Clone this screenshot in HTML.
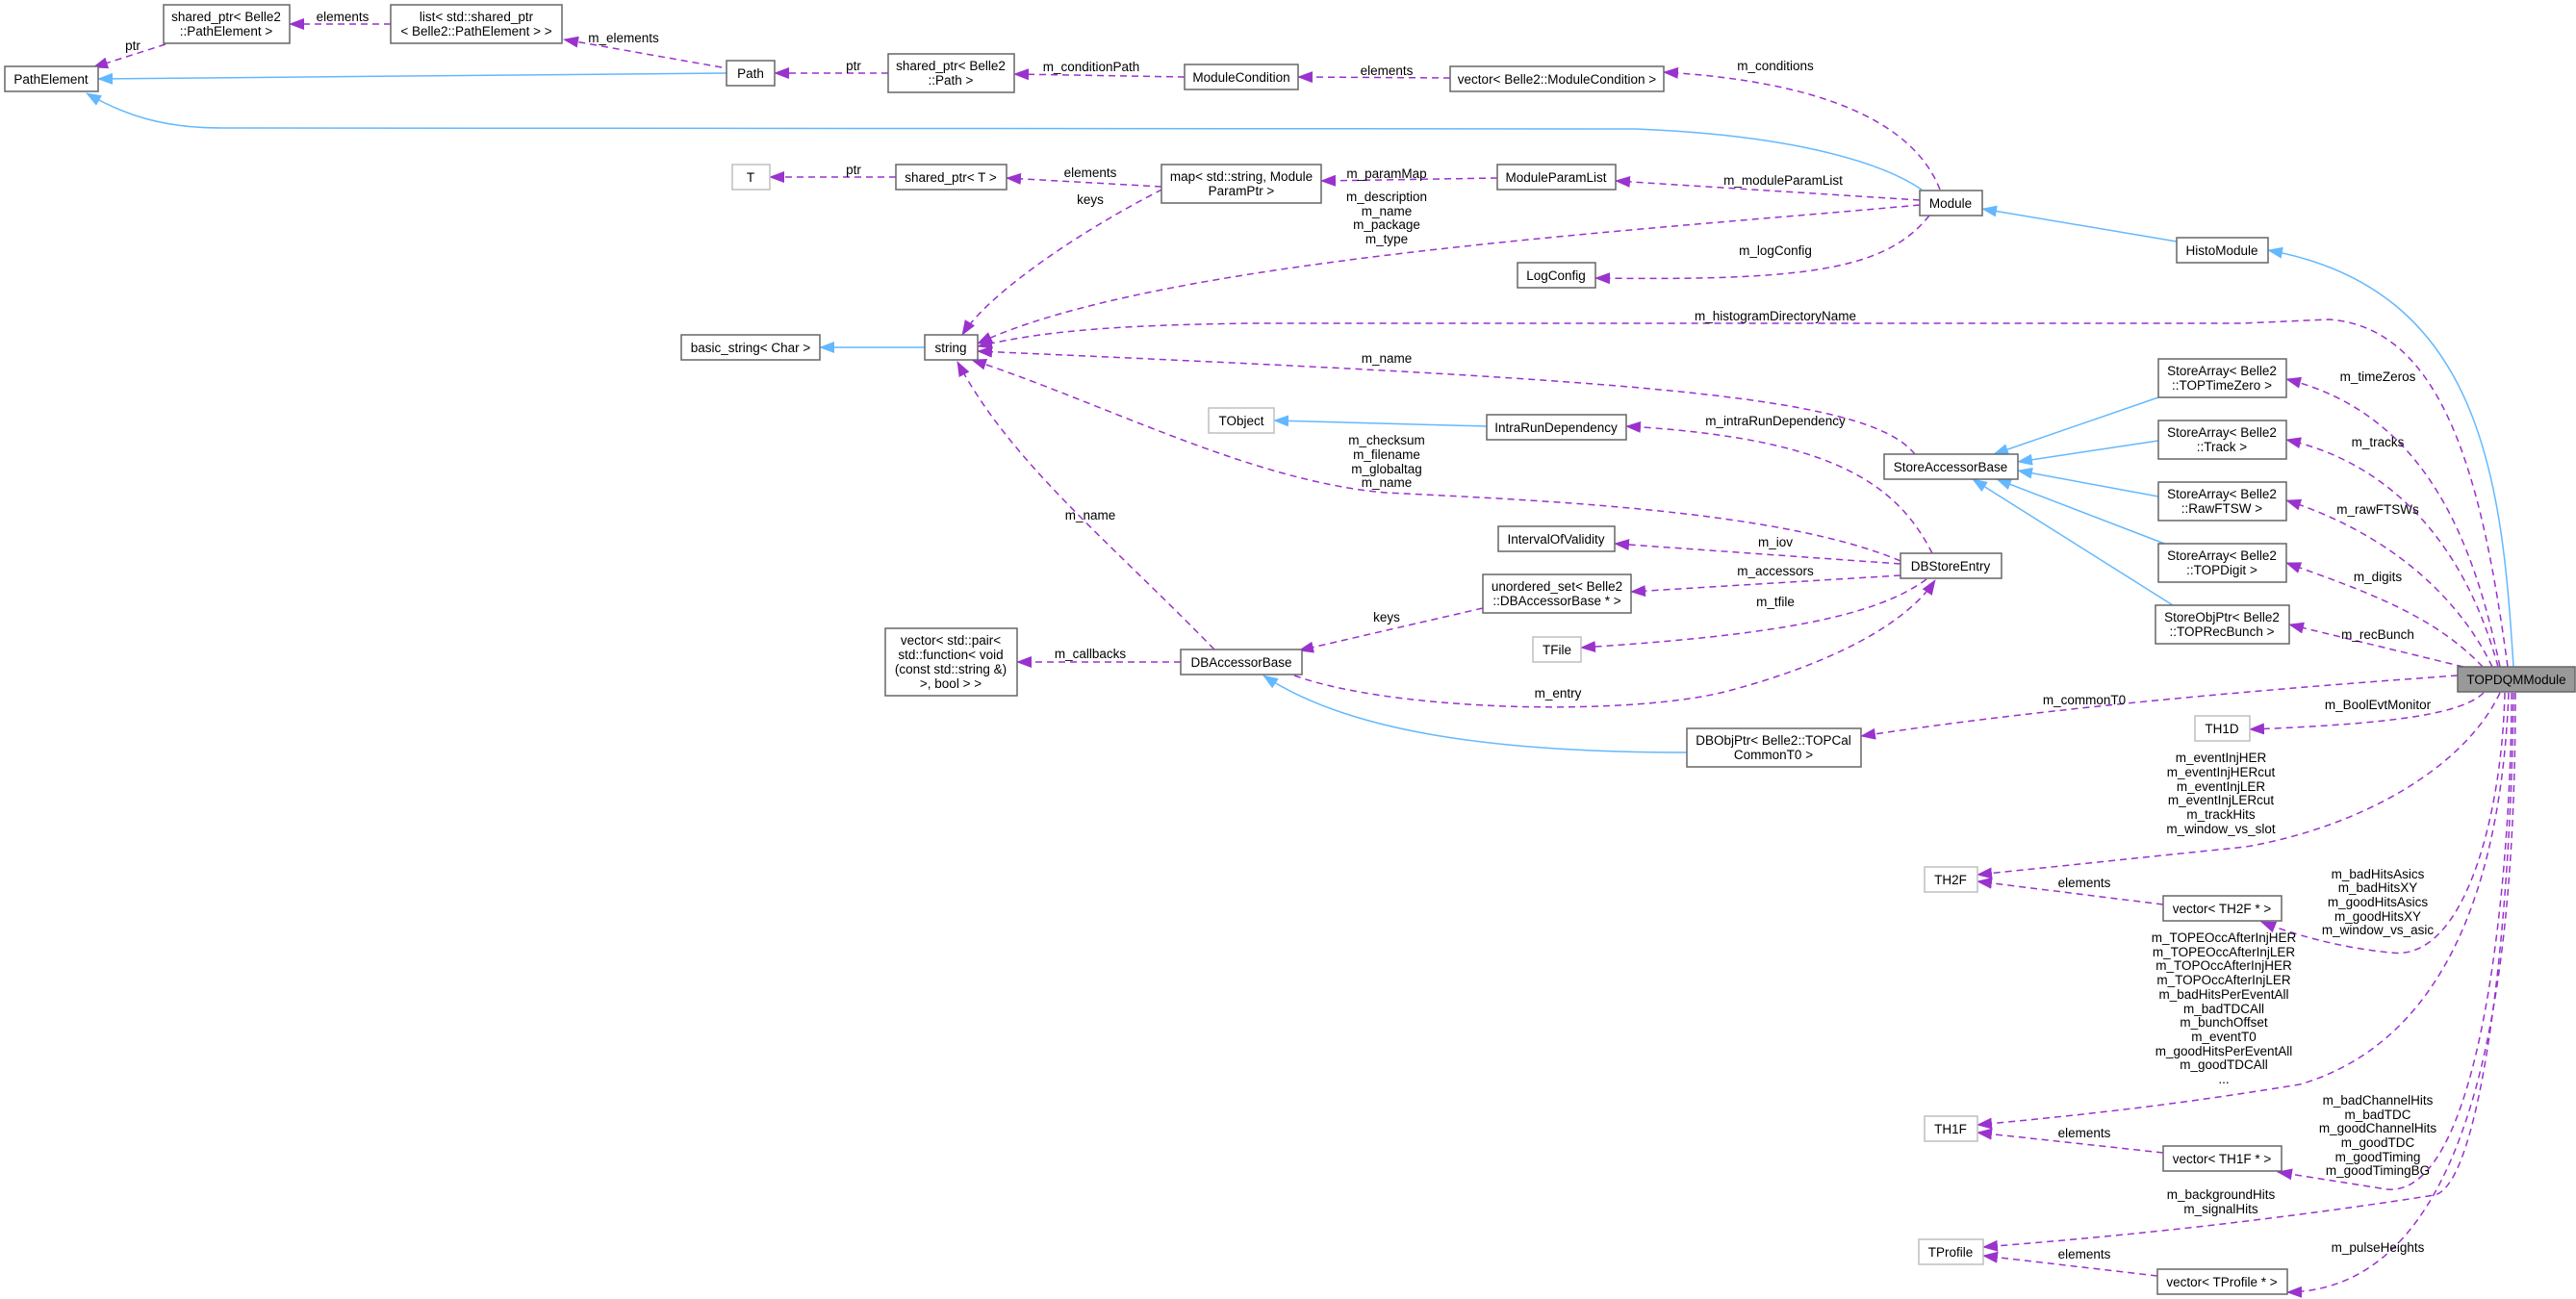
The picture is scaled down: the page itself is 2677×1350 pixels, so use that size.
<!DOCTYPE html>
<html><head><meta charset="utf-8"><style>
html,body{margin:0;padding:0;background:#fff;}
svg{display:block;}
text{font-family:"Liberation Sans",Arial,sans-serif;font-size:13.5px;fill:#000;text-anchor:middle;}
.b{fill:#fff;stroke:#666;stroke-width:1.5;}
.l{fill:#fff;stroke:#bfbfbf;stroke-width:1.5;}
.d{fill:none;stroke:#9a32cd;stroke-width:1.5;stroke-dasharray:7,5;}
.s{fill:none;stroke:#63b8ff;stroke-width:1.5;}
</style></head><body>
<svg width="2677" height="1350" viewBox="0 0 2677 1350" xmlns="http://www.w3.org/2000/svg">
<defs>
<marker id="pa" markerUnits="userSpaceOnUse" markerWidth="16" markerHeight="12" refX="15" refY="6" orient="auto"><path d="M0,0 L16,6 L0,12 z" fill="#9a32cd"/></marker>
<marker id="ba" markerUnits="userSpaceOnUse" markerWidth="16" markerHeight="12" refX="15" refY="6" orient="auto"><path d="M0,0 L16,6 L0,12 z" fill="#63b8ff"/></marker>
</defs>

<!-- edges -->
<g>
<path class="d" marker-end="url(#pa)" d="M172,46 L97,70"/>
<path class="d" marker-end="url(#pa)" d="M406,25 L301,25"/>
<path class="d" marker-end="url(#pa)" d="M750,70 L586,41"/>
<path class="s" marker-end="url(#ba)" d="M755,76 L102,82"/>
<path class="d" marker-end="url(#pa)" d="M923,76 L805,76"/>
<path class="d" marker-end="url(#pa)" d="M1231,80 L1054,77"/>
<path class="d" marker-end="url(#pa)" d="M1507,81 L1349,80"/>
<path class="d" marker-end="url(#pa)" d="M2016,197 C1990,130 1900,85 1729,75"/>
<path class="s" marker-end="url(#ba)" d="M1997,197 C1950,165 1850,140 1700,134 L230,133 C170,133 130,120 90,97"/>
<path class="d" marker-end="url(#pa)" d="M931,184 L800,184"/>
<path class="d" marker-end="url(#pa)" d="M1207,194 L1046,185"/>
<path class="d" marker-end="url(#pa)" d="M1556,185 L1373,188"/>
<path class="d" marker-end="url(#pa)" d="M1995,208 L1679,188"/>
<path class="d" marker-end="url(#pa)" d="M1995,213 C1700,240 1200,270 1016,357"/>
<path class="d" marker-end="url(#pa)" d="M1262,171 C1150,220 1030,300 1000,348"/>
<path class="d" marker-end="url(#pa)" d="M2005,224 C1960,280 1880,292 1658,289"/>
<path class="s" marker-end="url(#ba)" d="M2262,251 L2060,217"/>
<path class="s" marker-end="url(#ba)" d="M2612,693 C2600,500 2580,300 2357,260"/>
<path class="s" marker-end="url(#ba)" d="M961,361 L852,361"/>
<path class="d" marker-end="url(#pa)" d="M2606,693 C2580,500 2540,340 2420,332 L2330,336 L1300,336 C1150,338 1080,345 1016,360"/>
<path class="d" marker-end="url(#pa)" d="M1990,472 C1940,410 1700,395 1016,365"/>
<path class="d" marker-end="url(#pa)" d="M1975,583 C1850,530 1600,520 1440,512 C1300,500 1150,420 1010,374"/>
<path class="d" marker-end="url(#pa)" d="M2008,575 C1970,500 1900,455 1690,443"/>
<path class="d" marker-end="url(#pa)" d="M1975,586 L1678,565"/>
<path class="d" marker-end="url(#pa)" d="M1975,598 L1695,615"/>
<path class="d" marker-end="url(#pa)" d="M2002,602 C1950,640 1850,660 1643,673"/>
<path class="d" marker-end="url(#pa)" d="M1345,702 C1450,740 1700,745 1800,717 C1900,690 1980,650 2011,603"/>
<path class="d" marker-end="url(#pa)" d="M1541,632 L1350,676"/>
<path class="d" marker-end="url(#pa)" d="M1227,688 L1057,688"/>
<path class="d" marker-end="url(#pa)" d="M1262,675 C1150,560 1050,480 995,376"/>
<path class="s" marker-end="url(#ba)" d="M1753,782 C1550,782 1400,760 1313,702"/>
<path class="s" marker-end="url(#ba)" d="M1545,443 L1324,437"/>
<path class="s" marker-end="url(#ba)" d="M2243,413 L2072,472"/>
<path class="s" marker-end="url(#ba)" d="M2243,458 L2097,480"/>
<path class="s" marker-end="url(#ba)" d="M2243,516 L2097,489"/>
<path class="s" marker-end="url(#ba)" d="M2252,566 L2075,498"/>
<path class="s" marker-end="url(#ba)" d="M2258,629 L2050,498"/>
<path class="d" marker-end="url(#pa)" d="M2598,693 C2570,560 2520,430 2376,394"/>
<path class="d" marker-end="url(#pa)" d="M2596,693 C2560,560 2480,480 2376,457"/>
<path class="d" marker-end="url(#pa)" d="M2590,693 C2550,610 2470,550 2376,520"/>
<path class="d" marker-end="url(#pa)" d="M2580,693 C2530,640 2460,615 2376,585"/>
<path class="d" marker-end="url(#pa)" d="M2560,693 L2379,649"/>
<path class="d" marker-end="url(#pa)" d="M2554,702 C2300,720 2100,740 1934,765"/>
<path class="d" marker-end="url(#pa)" d="M2581,720 C2560,740 2500,752 2338,758"/>
<path class="d" marker-end="url(#pa)" d="M2598,720 C2560,800 2450,860 2334,880 L2055,909"/>
<path class="d" marker-end="url(#pa)" d="M2603,720 C2600,850 2560,1000 2485,990 C2430,985 2380,970 2350,958"/>
<path class="d" marker-end="url(#pa)" d="M2607,720 C2600,900 2550,1080 2390,1127 C2250,1150 2150,1160 2055,1169"/>
<path class="d" marker-end="url(#pa)" d="M2610,720 C2610,900 2580,1260 2474,1235 L2367,1218"/>
<path class="d" marker-end="url(#pa)" d="M2612,720 C2610,950 2580,1230 2530,1242 C2350,1270 2200,1285 2061,1296"/>
<path class="d" marker-end="url(#pa)" d="M2614,720 C2614,1000 2580,1340 2377,1343"/>
<path class="d" marker-end="url(#pa)" d="M2248,940 L2055,916"/>
<path class="d" marker-end="url(#pa)" d="M2248,1198 L2055,1177"/>
<path class="d" marker-end="url(#pa)" d="M2242,1326 L2061,1305"/>
</g>

<!-- boxes -->
<g>
<rect class="b" x="170" y="5" width="131" height="40"/><text x="235" y="22">shared_ptr&lt; Belle2</text><text x="235" y="37">::PathElement &gt;</text>
<rect class="b" x="406" y="5" width="178" height="40"/><text x="495" y="22">list&lt; std::shared_ptr</text><text x="495" y="37">&lt; Belle2::PathElement &gt; &gt;</text>
<rect class="b" x="5" y="69" width="97" height="26"/><text x="53" y="87">PathElement</text>
<rect class="b" x="755" y="63" width="50" height="26"/><text x="780" y="81">Path</text>
<rect class="b" x="923" y="56" width="131" height="40"/><text x="988" y="73">shared_ptr&lt; Belle2</text><text x="988" y="88">::Path &gt;</text>
<rect class="b" x="1231" y="67" width="118" height="26"/><text x="1290" y="85">ModuleCondition</text>
<rect class="b" x="1507" y="69" width="222" height="26"/><text x="1618" y="87">vector&lt; Belle2::ModuleCondition &gt;</text>
<rect class="l" x="761" y="171" width="39" height="26"/><text x="780" y="189">T</text>
<rect class="b" x="931" y="171" width="115" height="26"/><text x="988" y="189">shared_ptr&lt; T &gt;</text>
<rect class="b" x="1207" y="171" width="166" height="40"/><text x="1290" y="188">map&lt; std::string, Module</text><text x="1290" y="203">ParamPtr &gt;</text>
<rect class="b" x="1556" y="171" width="123" height="26"/><text x="1617" y="189">ModuleParamList</text>
<rect class="b" x="1995" y="198" width="65" height="26"/><text x="2027" y="216">Module</text>
<rect class="b" x="2262" y="247" width="95" height="26"/><text x="2309" y="265">HistoModule</text>
<rect class="b" x="1577" y="273" width="81" height="26"/><text x="1617" y="291">LogConfig</text>
<rect class="b" x="708" y="348" width="144" height="26"/><text x="780" y="366">basic_string&lt; Char &gt;</text>
<rect class="b" x="961" y="348" width="55" height="26"/><text x="988" y="366">string</text>
<rect class="l" x="1256" y="424" width="68" height="26"/><text x="1290" y="442">TObject</text>
<rect class="b" x="1545" y="431" width="145" height="26"/><text x="1617" y="449">IntraRunDependency</text>
<rect class="b" x="2243" y="373" width="133" height="40"/><text x="2309" y="390">StoreArray&lt; Belle2</text><text x="2309" y="405">::TOPTimeZero &gt;</text>
<rect class="b" x="1958" y="472" width="139" height="26"/><text x="2027" y="490">StoreAccessorBase</text>
<rect class="b" x="2243" y="437" width="133" height="40"/><text x="2309" y="454">StoreArray&lt; Belle2</text><text x="2309" y="469">::Track &gt;</text>
<rect class="b" x="2243" y="501" width="133" height="40"/><text x="2309" y="518">StoreArray&lt; Belle2</text><text x="2309" y="533">::RawFTSW &gt;</text>
<rect class="b" x="2243" y="565" width="133" height="40"/><text x="2309" y="582">StoreArray&lt; Belle2</text><text x="2309" y="597">::TOPDigit &gt;</text>
<rect class="b" x="2240" y="629" width="139" height="40"/><text x="2309" y="646">StoreObjPtr&lt; Belle2</text><text x="2309" y="661">::TOPRecBunch &gt;</text>
<rect class="b" x="1557" y="547" width="121" height="26"/><text x="1617" y="565">IntervalOfValidity</text>
<rect class="b" x="1975" y="575" width="105" height="26"/><text x="2027" y="593">DBStoreEntry</text>
<rect class="b" x="1541" y="597" width="154" height="40"/><text x="1618" y="614">unordered_set&lt; Belle2</text><text x="1618" y="629">::DBAccessorBase * &gt;</text>
<rect class="l" x="1593" y="662" width="50" height="26"/><text x="1618" y="680">TFile</text>
<rect class="b" x="920" y="653" width="137" height="70"/><text x="988" y="670">vector&lt; std::pair&lt;</text><text x="988" y="685">std::function&lt; void</text><text x="988" y="700">(const std::string &amp;)</text><text x="988" y="715">&gt;, bool &gt; &gt;</text>
<rect class="b" x="1227" y="675" width="126" height="26"/><text x="1290" y="693">DBAccessorBase</text>
<rect x="2554" y="693" width="122" height="26" fill="#999" stroke="#666" stroke-width="1.5"/><text x="2615" y="711">TOPDQMModule</text>
<rect class="l" x="2281" y="744" width="57" height="26"/><text x="2309" y="762">TH1D</text>
<rect class="b" x="1753" y="757" width="181" height="40"/><text x="1843" y="774">DBObjPtr&lt; Belle2::TOPCal</text><text x="1843" y="789">CommonT0 &gt;</text>
<rect class="l" x="2000" y="901" width="55" height="26"/><text x="2027" y="919">TH2F</text>
<rect class="b" x="2248" y="931" width="123" height="26"/><text x="2309" y="949">vector&lt; TH2F * &gt;</text>
<rect class="l" x="2000" y="1160" width="55" height="26"/><text x="2027" y="1178">TH1F</text>
<rect class="b" x="2248" y="1191" width="123" height="26"/><text x="2309" y="1209">vector&lt; TH1F * &gt;</text>
<rect class="l" x="1994" y="1288" width="67" height="26"/><text x="2027" y="1306">TProfile</text>
<rect class="b" x="2242" y="1319" width="135" height="26"/><text x="2309" y="1337">vector&lt; TProfile * &gt;</text>
</g>

<!-- labels -->
<g>
<text x="138" y="52">ptr</text>
<text x="356" y="22">elements</text>
<text x="648" y="44">m_elements</text>
<text x="887" y="73">ptr</text>
<text x="1134" y="74">m_conditionPath</text>
<text x="1441" y="78">elements</text>
<text x="1845" y="73">m_conditions</text>
<text x="887" y="181">ptr</text>
<text x="1133" y="184">elements</text>
<text x="1441" y="185">m_paramMap</text>
<text x="1133" y="212">keys</text>
<text x="1441" y="209">m_description</text><text x="1441" y="224">m_name</text><text x="1441" y="238">m_package</text><text x="1441" y="253">m_type</text>
<text x="1853" y="192">m_moduleParamList</text>
<text x="1845" y="265">m_logConfig</text>
<text x="1845" y="333">m_histogramDirectoryName</text>
<text x="1441" y="377">m_name</text>
<text x="1845" y="442">m_intraRunDependency</text>
<text x="1441" y="462">m_checksum</text><text x="1441" y="477">m_filename</text><text x="1441" y="492">m_globaltag</text><text x="1441" y="506">m_name</text>
<text x="1133" y="540">m_name</text>
<text x="1845" y="568">m_iov</text>
<text x="1845" y="598">m_accessors</text>
<text x="1845" y="630">m_tfile</text>
<text x="1441" y="646">keys</text>
<text x="1133" y="684">m_callbacks</text>
<text x="1619" y="725">m_entry</text>
<text x="2471" y="396">m_timeZeros</text>
<text x="2471" y="464">m_tracks</text>
<text x="2471" y="534">m_rawFTSWs</text>
<text x="2471" y="604">m_digits</text>
<text x="2471" y="664">m_recBunch</text>
<text x="2166" y="732">m_commonT0</text>
<text x="2471" y="737">m_BoolEvtMonitor</text>
<text x="2308" y="792">m_eventInjHER</text><text x="2308" y="807">m_eventInjHERcut</text><text x="2308" y="822">m_eventInjLER</text><text x="2308" y="836">m_eventInjLERcut</text><text x="2308" y="851">m_trackHits</text><text x="2308" y="866">m_window_vs_slot</text>
<text x="2166" y="922">elements</text>
<text x="2471" y="913">m_badHitsAsics</text><text x="2471" y="927">m_badHitsXY</text><text x="2471" y="942">m_goodHitsAsics</text><text x="2471" y="957">m_goodHitsXY</text><text x="2471" y="971">m_window_vs_asic</text>
<text x="2311" y="979">m_TOPEOccAfterInjHER</text><text x="2311" y="994">m_TOPEOccAfterInjLER</text><text x="2311" y="1008">m_TOPOccAfterInjHER</text><text x="2311" y="1023">m_TOPOccAfterInjLER</text><text x="2311" y="1038">m_badHitsPerEventAll</text><text x="2311" y="1053">m_badTDCAll</text><text x="2311" y="1067">m_bunchOffset</text><text x="2311" y="1082">m_eventT0</text><text x="2311" y="1097">m_goodHitsPerEventAll</text><text x="2311" y="1111">m_goodTDCAll</text><text x="2311" y="1126">...</text>
<text x="2166" y="1182">elements</text>
<text x="2471" y="1148">m_badChannelHits</text><text x="2471" y="1163">m_badTDC</text><text x="2471" y="1177">m_goodChannelHits</text><text x="2471" y="1192">m_goodTDC</text><text x="2471" y="1207">m_goodTiming</text><text x="2471" y="1221">m_goodTimingBG</text>
<text x="2308" y="1246">m_backgroundHits</text><text x="2308" y="1261">m_signalHits</text>
<text x="2166" y="1308">elements</text>
<text x="2471" y="1301">m_pulseHeights</text>
</g>
</svg>
</body></html>
